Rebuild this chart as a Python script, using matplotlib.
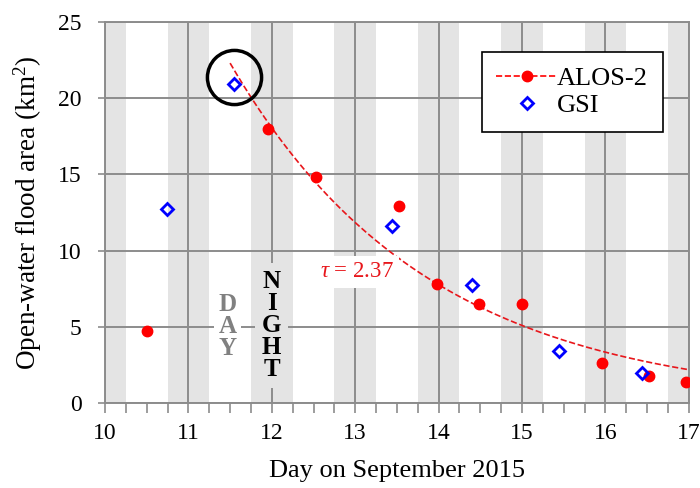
import numpy as np
import matplotlib.pyplot as plt
from matplotlib.ticker import MultipleLocator

plt.rcParams['font.family'] = ['Liberation Serif', 'DejaVu Serif']
plt.rcParams['mathtext.fontset'] = 'custom'
plt.rcParams['mathtext.it'] = 'Liberation Serif:italic'
plt.rcParams['mathtext.rm'] = 'Liberation Serif'

# ALOS-2 observations (day of September 2015, flood area km^2)
alos_day = [10.5, 11.95, 12.53, 13.53, 13.98, 14.48, 15.0, 15.96, 16.52, 16.97]
alos_area = [4.7, 18.0, 14.8, 12.9, 7.8, 6.5, 6.5, 2.6, 1.8, 1.4]

# GSI estimates
gsi_day = [10.74, 11.55, 13.44, 14.4, 15.44, 16.44]
gsi_area = [12.7, 20.9, 11.6, 7.75, 3.4, 2.0]

# exponential decay fit
tau = 2.37
fit_start = 11.5
fit_area0 = 22.3

# night periods (18:00 - 06:00)
night_start = [9.75, 10.75, 11.75, 12.75, 13.75, 14.75, 15.75, 16.75]

fig = plt.figure(figsize=(7, 4.88), dpi=100)
ax = fig.add_axes([0.15, 0.174, 0.834, 0.781])

for s in night_start:
    ax.axvspan(s, s + 0.5, color='#e4e4e4', lw=0, zorder=0)

ax.grid(True, color='#8c8c8c', lw=1.4, zorder=1)
ax.set_axisbelow(True)

t = np.linspace(fit_start, 17, 200)
ax.plot(t, fit_area0 * np.exp(-(t - fit_start) / tau), '--', color='#e8161b', lw=1.2, zorder=3)
ax.plot(alos_day, alos_area, 'o', color='#ff0000', ms=7.5, zorder=4)
ax.plot(gsi_day, gsi_area, 'D', mfc='none', mec='#0000ff', mew=2, ms=6.5, zorder=4)

# legend proxies
ax.plot([], [], '--o', color='#ff0000', ms=7.5, lw=1.2, label='ALOS-2')
ax.plot([], [], 'D', mfc='none', mec='#0000ff', mew=2, ms=6.5, label='GSI')
leg = ax.legend(loc='upper right', bbox_to_anchor=(0.955, 0.921), borderaxespad=0, fontsize=19,
                frameon=True, fancybox=False, edgecolor='black', framealpha=1,
                handlelength=2.3, handletextpad=0.0, borderpad=0.55, labelspacing=0.15)
leg.get_frame().set_linewidth(1.2)
leg.set_zorder(6)

# circle around highlighted GSI point
ax.plot([11.55], [21.4], 'o', mfc='none', mec='black', mew=2.5, ms=39, zorder=5)

ax.text(13.02, 8.6, r'$\tau$ = 2.37', color='#e8161b', fontsize=16.5, ha='center', va='center',
        bbox=dict(facecolor='white', edgecolor='none', pad=4), zorder=5)
ax.text(11.47, 5.0, 'D\nA\nY', color='#808080', fontsize=18, fontweight='bold',
        ha='center', va='center', linespacing=0.95,
        bbox=dict(facecolor='white', edgecolor='none', pad=3), zorder=5)
ax.text(12.0, 5.1, 'N\nI\nG\nH\nT', color='black', fontsize=18, fontweight='bold',
        ha='center', va='center', linespacing=0.95,
        bbox=dict(facecolor='#e4e4e4', edgecolor='none', pad=5), zorder=5)

ax.set_xlim(10, 17)
ax.set_ylim(0, 25)
ax.xaxis.set_major_locator(MultipleLocator(1))
ax.xaxis.set_minor_locator(MultipleLocator(0.25))
ax.yaxis.set_major_locator(MultipleLocator(5))
ax.tick_params(axis='both', which='both', direction='out', color='#8c8c8c', width=1.2, labelsize=17)
ax.tick_params(axis='x', which='major', length=7, pad=7)
ax.tick_params(axis='x', which='minor', length=7)
ax.tick_params(axis='y', length=5, pad=12)
for sp in ax.spines.values():
    sp.set_color('#8c8c8c')
    sp.set_linewidth(1.4)

ax.set_xlabel('Day on September 2015', fontsize=19, labelpad=12)
ax.set_ylabel('Open-water flood area (km$^2$)', fontsize=19.5, labelpad=10)

fig.savefig('out.png', dpi=100)
